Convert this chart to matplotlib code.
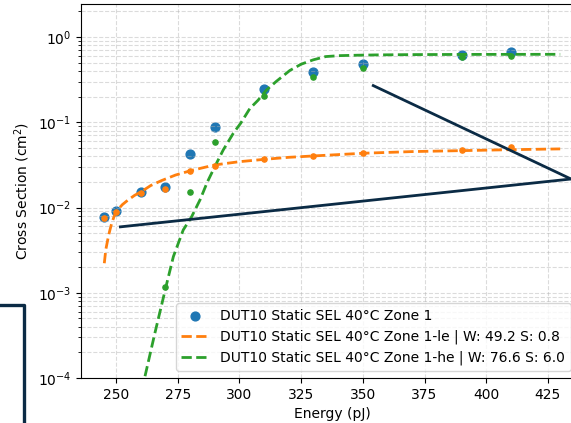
"""Static SEL cross section vs energy, DUT10 at 40C, with Weibull fit curves."""
import numpy as np
import matplotlib
matplotlib.use("Agg")
import matplotlib.pyplot as plt
from matplotlib.lines import Line2D

# measured points (Zone 1)
energy = [245, 250, 260, 270, 280, 290, 310, 330, 350, 390, 410]
xs_zone1 = [0.0077, 0.0090, 0.0151, 0.0176, 0.0425, 0.0889, 0.244, 0.386, 0.478, 0.615, 0.673]

# low-energy split
xs_le = [0.0076, 0.0088, 0.0147, 0.0164, 0.0271, 0.031, 0.0368, 0.0403, 0.0433, 0.047, 0.0514]
# high-energy split (below axis for < 270 pJ)
energy_he = [270, 280, 290, 310, 330, 350, 390, 410]
xs_he = [0.00118, 0.0154, 0.0582, 0.205, 0.343, 0.43, 0.578, 0.604]

# fit curves
fit_le_e = [245.2, 245.8, 246.6, 247.3, 248.2, 249.2, 250.2, 252.5, 254.9, 257.5, 260.3, 264, 268.4, 274,
            280.3, 290, 300, 310.4, 320, 330.2, 350.1, 370, 390.6, 410, 430]
fit_le_y = [0.00222, 0.0032, 0.0042, 0.0052, 0.00655, 0.0079, 0.0091, 0.0108, 0.0123, 0.0139, 0.0154,
            0.0181, 0.0207, 0.0240, 0.0271, 0.0316, 0.0345, 0.0368, 0.0388, 0.0403, 0.0433, 0.0453,
            0.0465, 0.0477, 0.0487]
fit_he_e = [261.7, 265.7, 270.2, 273.2, 277.2, 280.6, 284, 287, 290, 293.4, 297.5, 300.5, 304.2, 307.5,
            311, 315, 320.4, 325, 329.9, 335, 340.7, 348, 355.6, 370, 390, 430]
fit_he_y = [1.05e-4, 3.36e-4, 0.00118, 0.00266, 0.00546, 0.0078, 0.0123, 0.020, 0.0302, 0.0473, 0.0743,
            0.0976, 0.145, 0.181, 0.24, 0.303, 0.405, 0.48, 0.54, 0.59, 0.605, 0.612, 0.617, 0.622,
            0.625, 0.627]

W = 571 / 100, 423 / 100
fig = plt.figure(figsize=W, dpi=100)
# axes run past the right edge (cropped screenshot)
ax = fig.add_axes([81 / 571, 45 / 423, 502 / 571, 374 / 423])

ax.scatter(energy, xs_zone1, s=40, color="C0", label="DUT10 Static SEL 40°C Zone 1")
ax.plot(fit_le_e, fit_le_y, "--", color="C1", lw=2,
        label="DUT10 Static SEL 40°C Zone 1-le | W: 49.2 S: 0.8")
ax.scatter(energy, xs_le, s=14, color="C1", zorder=3)
ax.plot(fit_he_e, fit_he_y, "--", color="C2", lw=2,
        label="DUT10 Static SEL 40°C Zone 1-he | W: 76.6 S: 6.0")
ax.scatter(energy_he, xs_he, s=14, color="C2", zorder=3)

ax.set_yscale("log")
ax.set_ylim(1e-4, 2.44)
ax.set_xlim(235.75, 439.25)
ax.set_xticks([250, 275, 300, 325, 350, 375, 400, 425])
ax.grid(True, which="both", linestyle="--", alpha=0.45)
ax.set_xlabel("Energy (pJ)")
ax.set_ylabel("Cross Section (cm$^2$)")
ax.legend(loc="lower left", bbox_to_anchor=(0.189, 0.0187), borderaxespad=0)

# dark overlay strokes drawn on top of the screenshot
navy = "#0b2b45"
def px(x, y):
    return x / 571, 1 - y / 423
for (x0, y0), (x1, y1) in [((372, 85), (571, 179)), ((119, 227), (571, 179))]:
    a, b = px(x0, y0), px(x1, y1)
    fig.add_artist(Line2D([a[0], b[0]], [a[1], b[1]], color=navy, lw=2.0,
                          solid_capstyle="butt"))
pts = [px(0, 305), px(24, 305), px(24, 430)]
fig.add_artist(Line2D([p[0] for p in pts], [p[1] for p in pts], color=navy, lw=2.4,
                      solid_joinstyle="round"))

fig.savefig("out.png", dpi=100)
